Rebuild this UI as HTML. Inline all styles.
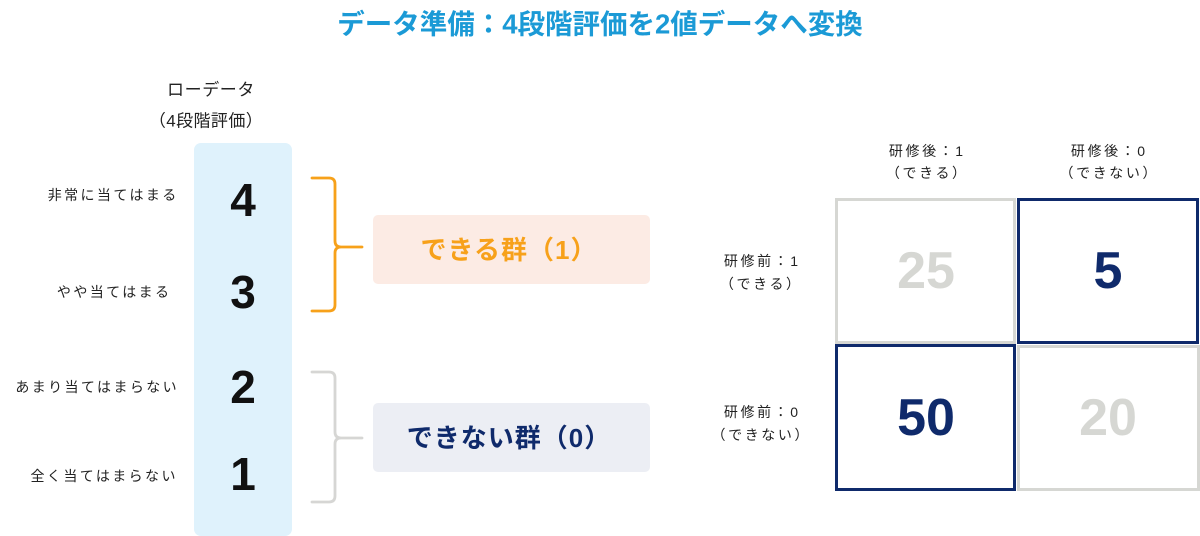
<!DOCTYPE html>
<html>
<head>
<meta charset="utf-8">
<style>
  html, body { margin:0; padding:0; }
  body { width:1200px; height:536px; position:relative; overflow:hidden; background:#ffffff;
         font-family:"Liberation Sans","Noto Sans CJK JP",sans-serif; }
  .t { position:absolute; white-space:nowrap; transform:translate(-50%,-50%); line-height:1; }
  .lbl { font-size:14px; letter-spacing:2.4px; padding-left:2.4px; color:#222; }
  .mlbl { font-size:14px; letter-spacing:2.6px; padding-left:2.6px; color:#222; }
  .num { font-size:46px; font-weight:bold; color:#111; }
  .cell { position:absolute; box-sizing:border-box; border:3px solid #d6d7d3; background:#fff; }
  .navy { border-color:#0f2a6b; }
  .cnum { font-size:52px; font-weight:bold; }
</style>
</head>
<body>
  <!-- Title -->
  <div class="t" style="left:600px; top:24px; font-size:27.5px; font-weight:bold; color:#1b9ad6;">データ準備：4段階評価を2値データへ変換</div>

  <!-- Raw data header -->
  <div class="t" style="left:211px; top:90px; font-size:17px; letter-spacing:0.6px; color:#222;">ローデータ</div>
  <div class="t" style="left:206px; top:121px; font-size:17px; letter-spacing:0.4px; color:#222;">（4段階評価）</div>

  <!-- Blue column -->
  <div style="position:absolute; left:194px; top:143px; width:98px; height:393px; background:#dff2fc; border-radius:7px;"></div>

  <!-- Left labels -->
  <div class="t lbl" style="left:112px; top:195px;">非常に当てはまる</div>
  <div class="t lbl" style="left:113px; top:292px;">やや当てはまる</div>
  <div class="t lbl" style="left:96px; top:387px;">あまり当てはまらない</div>
  <div class="t lbl" style="left:103px; top:476px;">全く当てはまらない</div>

  <!-- Numbers -->
  <div class="t num" style="left:243px; top:200px;">4</div>
  <div class="t num" style="left:243px; top:292px;">3</div>
  <div class="t num" style="left:243px; top:387px;">2</div>
  <div class="t num" style="left:243px; top:474px;">1</div>

  <!-- Braces -->
  <svg style="position:absolute; left:0; top:0;" width="1200" height="536">
    <path d="M312 178 L329 178 Q335 178 335 184 L335 241 Q335 247 341 247 L362 247 M341 247 Q335 247 335 253 L335 305 Q335 311 329 311 L312 311"
          fill="none" stroke="#f7a11a" stroke-width="2.8" stroke-linecap="round"/>
    <path d="M312 372 L329 372 Q335 372 335 378 L335 432 Q335 438 341 438 L362 438 M341 438 Q335 438 335 444 L335 496 Q335 502 329 502 L312 502"
          fill="none" stroke="#d6d6d4" stroke-width="2.8" stroke-linecap="round"/>
  </svg>

  <!-- Group boxes -->
  <div style="position:absolute; left:373px; top:215px; width:277px; height:69px; background:#fcebe4; border-radius:5px;"></div>
  <div class="t" style="left:509px; top:250px; font-size:26px; letter-spacing:1px; font-weight:bold; color:#f7a11a;">できる群（1）</div>

  <div style="position:absolute; left:373px; top:403px; width:277px; height:69px; background:#eceef4; border-radius:5px;"></div>
  <div class="t" style="left:509px; top:438px; font-size:26px; letter-spacing:1px; font-weight:bold; color:#0f2a6b;">できない群（0）</div>

  <!-- Matrix column labels -->
  <div class="t mlbl" style="left:926px; top:151px;">研修後：1</div>
  <div class="t mlbl" style="left:926px; top:173px;">（できる）</div>
  <div class="t mlbl" style="left:1108px; top:151px;">研修後：0</div>
  <div class="t mlbl" style="left:1108px; top:173px;">（できない）</div>

  <!-- Matrix row labels -->
  <div class="t mlbl" style="left:761px; top:261px;">研修前：1</div>
  <div class="t mlbl" style="left:760px; top:284px;">（できる）</div>
  <div class="t mlbl" style="left:761px; top:412px;">研修前：0</div>
  <div class="t mlbl" style="left:760px; top:435px;">（できない）</div>

  <!-- Matrix cells -->
  <div class="cell" style="left:835px; top:198px; width:181px; height:146px;"></div>
  <div class="cell navy" style="left:1017px; top:198px; width:182px; height:146px;"></div>
  <div class="cell" style="left:1017px; top:345px; width:183px; height:146px;"></div>
  <div class="cell navy" style="left:835px; top:344px; width:181px; height:147px;"></div>

  <div class="t cnum" style="left:926px; top:271px; color:#d6d7d3;">25</div>
  <div class="t cnum" style="left:1108px; top:271px; color:#0f2a6b;">5</div>
  <div class="t cnum" style="left:926px; top:418px; color:#0f2a6b;">50</div>
  <div class="t cnum" style="left:1108px; top:418px; color:#d6d7d3;">20</div>
</body>
</html>
